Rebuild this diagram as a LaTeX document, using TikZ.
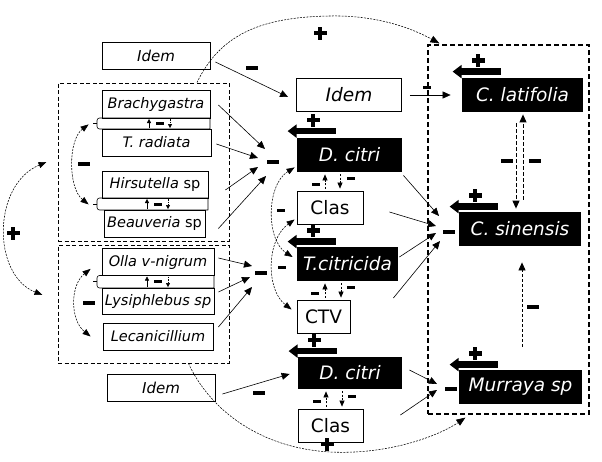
\documentclass[tikz,border=0pt]{standalone}
\usepackage{fontspec}
\setmainfont{DejaVu Sans}
\usetikzlibrary{arrows.meta,calc}

\begin{document}
\begin{tikzpicture}[x=1pt,y=-1pt,
  box/.style={draw,line width=0.8pt,inner sep=0pt,minimum height=27pt},
  sbox/.style={box,font=\fontsize{14.5}{17}\selectfont\itshape},
  mbox/.style={box,minimum height=33pt,font=\fontsize{18.5}{21}\selectfont},
  bbox/.style={mbox,minimum height=34pt,fill=black,text=white,draw=none,font=\fontsize{18.5}{21}\selectfont\itshape},
  grpbox/.style={draw,line width=1pt,dash pattern=on 4pt off 2.5pt,inner sep=0pt},
  arr/.style={-{Triangle[length=8pt,width=7pt]},line width=0.6pt},
  darr/.style={-{Triangle[length=6pt,width=5pt]},line width=0.6pt,dash pattern=on 2pt off 1.2pt},
  tarr/.style={-{Triangle[length=4pt,width=4pt]},line width=0.5pt},
  loopline/.style={{Triangle[length=8pt,width=6pt]}-{Triangle[length=8pt,width=6pt]},line width=0.55pt,dash pattern=on 2pt off 1.2pt},
  bigloop/.style={-{Triangle[length=9pt,width=7pt]},line width=0.55pt,dash pattern=on 2pt off 1.2pt},
  twin/.style={-{Triangle[length=8pt,width=7pt]},line width=0.9pt,dash pattern=on 4pt off 2pt},
  thrust/.style={line width=6.5pt,-{Triangle[length=9pt,width=13pt]}},
  plusmark/.pic={\fill (-6.5,-2.2) rectangle (6.5,2.2); \fill (-2.2,-6.5) rectangle (2.2,6.5);},
  minusmark/.pic={\fill (-6,-2) rectangle (6,2);},
  tinyminus/.pic={\fill (-4,-1.5) rectangle (4,1.5);},
]
\useasboundingbox (0,0) rectangle (602,461);

% groups
\node[grpbox,minimum width=171pt,minimum height=158pt] (grpA) at (143.5,162) {};
\node[grpbox,minimum width=171pt,minimum height=118pt] (grpB) at (143.5,304) {};
\node[grpbox,line width=1.2pt,dash pattern=on 5pt off 3pt,minimum width=161pt,minimum height=369pt] (grpR) at (508.5,229.5) {};

% left column
\node[box,minimum width=108pt,font=\fontsize{15}{17}\selectfont\itshape] (idemA) at (156,55.5) {Idem};
\node[sbox,minimum width=108pt,minimum height=28pt] (brachy) at (156,104) {Brachygastra};
\node[sbox,minimum width=109pt] (radiata) at (156.5,142.5) {T. radiata};
\node[sbox,minimum width=106pt] (hirsut) at (155,184.5) {Hirsutella \upshape sp};
\node[sbox,minimum width=101pt] (beauv) at (154.5,223.5) {Beauveria \upshape sp};
\node[sbox,minimum width=112pt] (olla) at (158,262) {Olla v-nigrum};
\node[sbox,minimum width=112pt,minimum height=26pt] (lysi) at (158,301) {Lysiphlebus sp};
\node[sbox,minimum width=110pt] (lecan) at (158,336.5) {Lecanicillium};
\node[box,minimum width=108pt,font=\fontsize{15}{17}\selectfont\itshape] (idemC) at (161,388) {Idem};

% middle column
\node[mbox,minimum width=105pt,font=\fontsize{18.5}{21}\selectfont\itshape] (idemB) at (349,94.5) {Idem};
\node[bbox,minimum width=105pt] (citriA) at (349.5,155) {D. citri};
\node[mbox,minimum width=66pt] (clasA) at (330,207.5) {Clas};
\node[bbox,minimum width=101pt] (tcitri) at (347.5,264) {T.citricida};
\node[mbox,minimum width=53pt] (ctv) at (323.5,316.5) {CTV};
\node[bbox,minimum width=104pt,minimum height=32pt] (citriB) at (350,373) {D. citri};
\node[mbox,minimum width=65pt] (clasB) at (330.5,425.5) {Clas};

% right column
\node[bbox,minimum width=121pt] (latif) at (522.5,95) {C. latifolia};
\node[bbox,minimum width=122pt] (sinen) at (520,229) {C. sinensis};
\node[bbox,minimum width=123pt] (murr) at (520.5,387) {Murraya sp};

% brackets between paired boxes
\foreach \ya/\yb/\xr/\xu/\xd in {118/129/210/149/170, 198/210/208/147/168, 275.5/288/214/147/168} {
  \draw[line width=0.6pt] (\xr,\yb) -- (\xr,\ya) [rounded corners=2.5pt] -- (97,\ya) -- (97,\yb) -- (\xr,\yb);
  \draw[line width=0.6pt] (93,{(\ya+\yb)/2}) -- (97,{(\ya+\yb)/2});
  \draw[tarr] (\xu,\yb-1) -- (\xu,\ya+1);
  \draw[tarr,dash pattern=on 1.5pt off 1pt] (\xd,\ya+1) -- (\xd,\yb-1);
  \pic at ({(\xu+\xd)/2},{(\ya+\yb)/2}) {tinyminus};
}

% arrowheads of thrust and plus signs over the black boxes
\foreach \n/\dy in {citriA/-6.5, tcitri/-5, citriB/-5.5, latif/-6, sinen/-5, murr/-5} {
  \draw[thrust] ($(\n.north west)+(39,\dy)$) -- ($(\n.north west)+(-9,\dy)$);
  \pic at ($(\n.north west)+(16.5,{\dy-11})$) {plusmark};
}

% converging arrows
\coordinate (tA1) at (265,149);
\coordinate (tA2) at (258,158);
\coordinate (tA3) at (258,167);
\coordinate (tA4) at (266,176);
\coordinate (tB1) at (252,266);
\coordinate (tB2) at (250,277);
\coordinate (tB3) at (252,287);
\coordinate (tS1) at (439,216);
\coordinate (tS2) at (436,226);
\coordinate (tS3) at (436,233);
\coordinate (tS4) at (440,241);
\coordinate (tM1) at (437,384);
\coordinate (tM2) at (437,390);
\draw[arr] ($(brachy.east)+(8,1)$) -- (tA1);
\draw[arr] ($(radiata.east)+(5,1.5)$) -- (tA2);
\draw[arr] ($(hirsut.east)+(17,5.5)$) -- (tA3);
\draw[arr] ($(beauv.east)+(13,5)$) -- (tA4);
\draw[arr] ($(olla.east)+(4,-4)$) -- (tB1);
\draw[arr] ($(lysi.east)+(4,-9)$) -- (tB2);
\draw[arr] ($(lecan.east)+(5,-9.5)$) -- (tB3);
\draw[arr] ($(idemA.east)+(5,6.5)$) -- ($(idemB.west)+(-8,2.5)$);
\draw[arr] ($(idemC.east)+(7,6)$) -- ($(citriB.west)+(-8,1)$);
\draw[arr] ($(idemB.east)+(8,0.5)$) -- ($(latif.west)+(-11,0)$);
\draw[arr] ($(citriA.south east)+(1,3)$) -- (tS1);
\draw[arr] ($(clasA.east)+(26,4.5)$) -- (tS2);
\draw[arr] ($(tcitri.east)+(1,-7)$) -- (tS3);
\draw[arr] ($(ctv.east)+(43,-18.5)$) -- (tS4);
\draw[arr] ($(citriB.east)+(7,-3)$) -- (tM1);
\draw[arr] ($(clasB.east)+(37,-10.5)$) -- (tM2);

% small dashed arrows between stacked boxes
\draw[darr] ($(clasA.north)+(-5,-2)$) -- ($(citriA.south)+(-24.5,2)$);
\draw[darr] ($(citriA.south)+(-9.5,2)$) -- ($(clasA.north)+(10,-2)$);
\draw[darr] ($(ctv.north)+(1.5,-2)$) -- ($(tcitri.south)+(-22.5,2)$);
\draw[darr] ($(tcitri.south)+(-6.5,2)$) -- ($(ctv.north)+(17.5,-2)$);
\draw[darr] ($(clasB.north)+(-4.5,-2)$) -- ($(citriB.south)+(-24,2)$);
\draw[darr] ($(citriB.south)+(-8,2)$) -- ($(clasB.north)+(11.5,-2)$);

% dashed arcs
\draw[loopline] ($(brachy.south west)+(-13,6)$) .. controls (68,140) and (68,188) .. ($(hirsut.south west)+(-13,6)$);
\draw[loopline] ($(grpA.west)+(-11,0)$) .. controls (-8,185) and (-8,275) .. ($(grpB.west)+(-15,-9)$);
\draw[loopline] ($(olla.south west)+(-11,-7)$) .. controls (70,285) and (70,320) .. ($(lecan.west)+(-12,0)$);
\draw[loopline] ($(citriA.south west)+(-2,-5)$) .. controls (266,185) and (266,240) .. ($(tcitri.west)+(-4,-7)$);
\draw[loopline] ($(clasA.west)+(-2,12)$) .. controls (266,240) and (266,290) .. ($(ctv.west)+(-5,-7)$);
\draw[bigloop] ($(grpA.north)+(53.5,0)$) .. controls (220,35) and (260,17) .. (330,16) .. controls (380,15) and (415,30) .. ($(grpR.north west)+(12,-1)$);
\draw[bigloop] ($(grpB.south)+(45,0)$) .. controls (210,410) and (260,448) .. (330,452) .. controls (390,455) and (440,435) .. ($(grpR.south west)+(38,3)$);
\draw[twin] ($(latif.south)+(-6.5,11)$) -- ($(sinen.north)+(-4,-3)$);
\draw[twin] ($(sinen.north)+(3,-12)$) -- ($(latif.south)+(0.5,2)$);
\draw[twin,line width=0.8pt,dash pattern=on 3pt off 2pt] ($(murr.north)+(1.5,-23)$) -- ($(sinen.south)+(2,16)$);

% signs
\pic at (252,68) {minusmark};
\pic at (273,162) {minusmark};
\pic at (261,273) {minusmark};
\pic at (259,393) {minusmark};
\pic at (448.5,232) {minusmark};
\pic at (451,389) {minusmark};
\pic at (84,164) {minusmark};
\pic at (89,303) {minusmark};
\pic at (281,210) {tinyminus};
\pic at (282,267) {tinyminus};
\pic at (427,87) {tinyminus};
\pic at (316,184) {tinyminus};
\pic at (351,178) {tinyminus};
\pic at (315,293) {tinyminus};
\pic at (351,287) {tinyminus};
\pic at (317,401) {tinyminus};
\pic at (352,396) {tinyminus};
\pic at (507,161) {minusmark};
\pic at (535,161) {minusmark};
\pic at (533,307) {minusmark};
\pic at (320,33) {plusmark};
\pic at (327,444) {plusmark};
\pic at (13,233) {plusmark};
\end{tikzpicture}
\end{document}
